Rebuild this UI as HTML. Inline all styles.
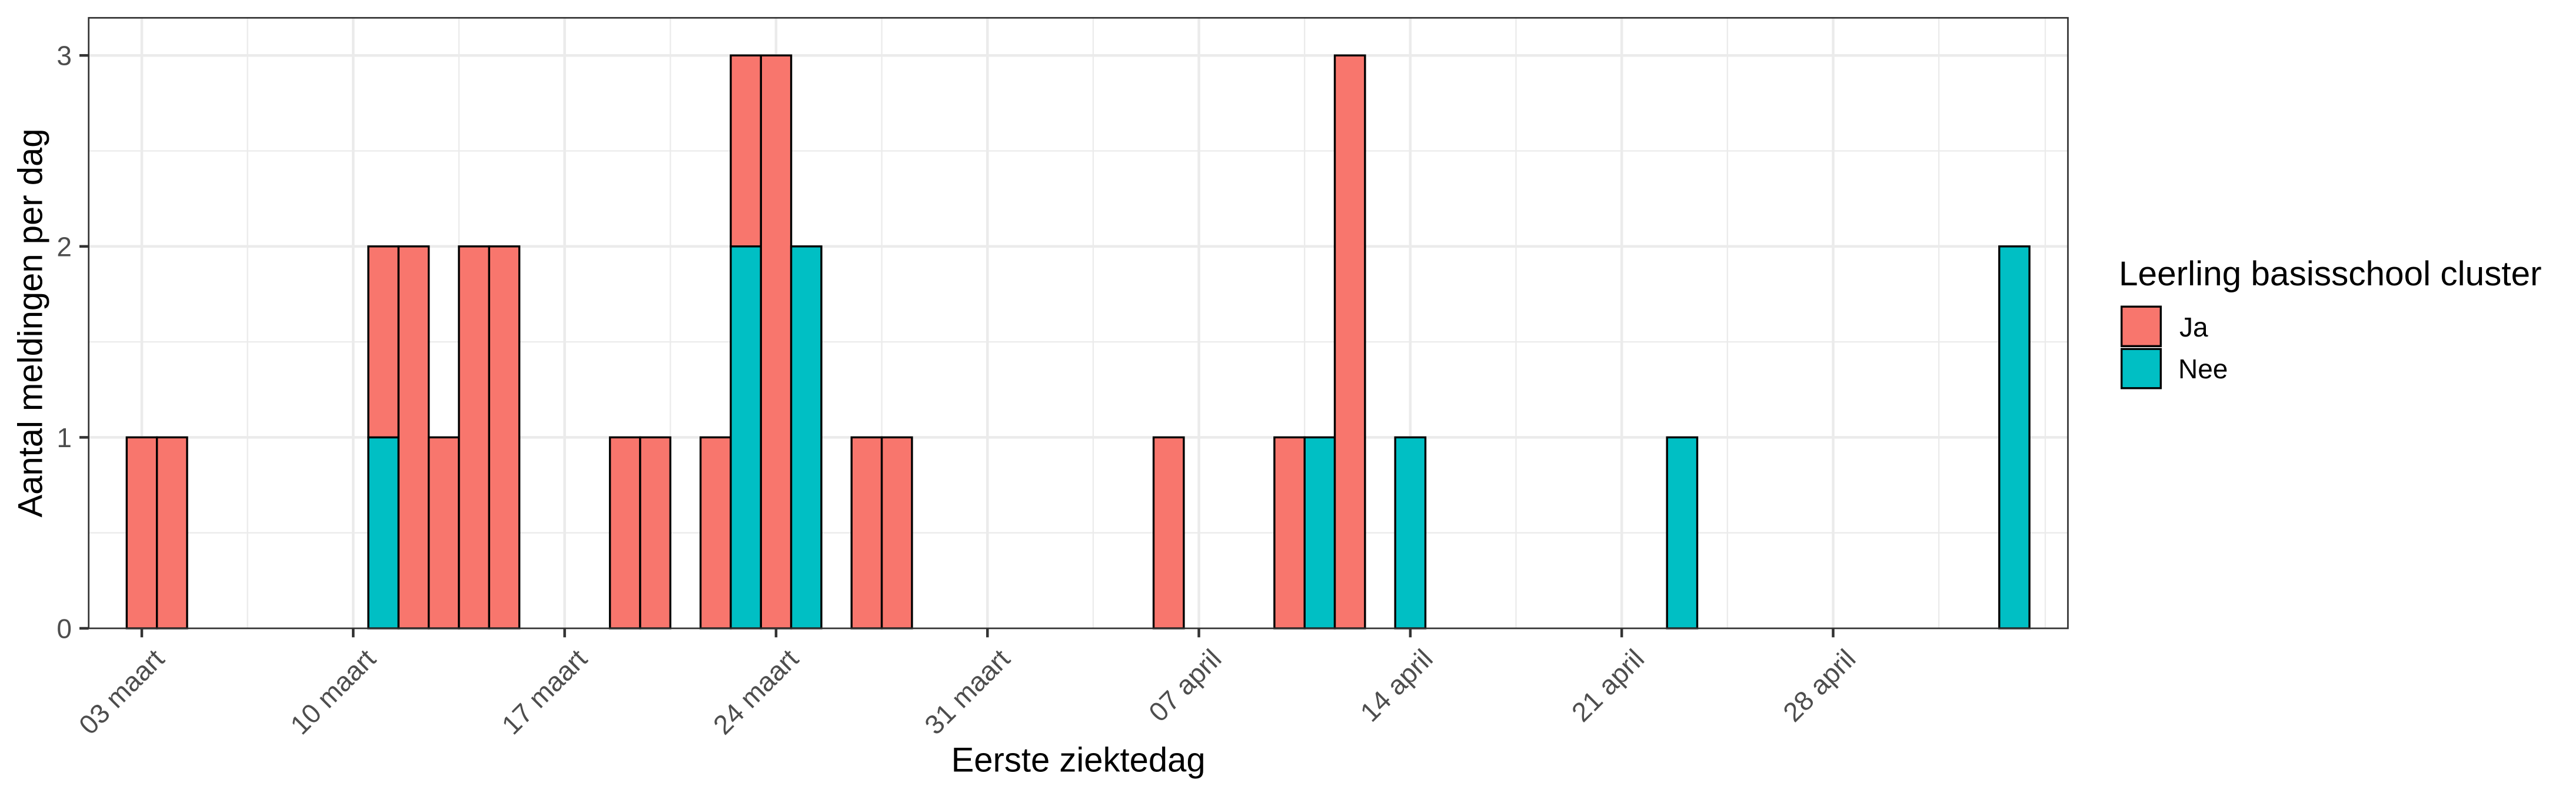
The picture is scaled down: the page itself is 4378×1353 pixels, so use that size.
<!DOCTYPE html>
<html>
<head>
<meta charset="utf-8">
<style>
  html, body { margin: 0; padding: 0; background: #ffffff; }
  svg { display: block; }
  text { font-family: "Liberation Sans", Arial, sans-serif; }
</style>
</head>
<body>
<svg xmlns="http://www.w3.org/2000/svg" width="4378" height="1353" viewBox="0 0 4378 1353">
  <rect x="0" y="0" width="4378" height="1353" fill="#ffffff"/>

  <!-- minor gridlines -->
  <g stroke="#EBEBEB" stroke-width="2.3" fill="none">
    <line x1="150.7" y1="905.7" x2="3514.5" y2="905.7"/>
    <line x1="150.7" y1="581.1" x2="3514.5" y2="581.1"/>
    <line x1="150.7" y1="256.5" x2="3514.5" y2="256.5"/>
    <line x1="420.66" y1="30.3" x2="420.66" y2="1068"/>
    <line x1="779.97" y1="30.3" x2="779.97" y2="1068"/>
    <line x1="1139.28" y1="30.3" x2="1139.28" y2="1068"/>
    <line x1="1498.59" y1="30.3" x2="1498.59" y2="1068"/>
    <line x1="1857.90" y1="30.3" x2="1857.90" y2="1068"/>
    <line x1="2217.21" y1="30.3" x2="2217.21" y2="1068"/>
    <line x1="2576.52" y1="30.3" x2="2576.52" y2="1068"/>
    <line x1="2935.83" y1="30.3" x2="2935.83" y2="1068"/>
    <line x1="3295.14" y1="30.3" x2="3295.14" y2="1068"/>
    <line x1="3476" y1="30.3" x2="3476" y2="1068"/>
  </g>

  <!-- major gridlines -->
  <g stroke="#EBEBEB" stroke-width="4.5" fill="none">
    <line x1="150.7" y1="743.4" x2="3514.5" y2="743.4"/>
    <line x1="150.7" y1="418.8" x2="3514.5" y2="418.8"/>
    <line x1="150.7" y1="94.2" x2="3514.5" y2="94.2"/>
    <line x1="241" y1="30.3" x2="241" y2="1068"/>
    <line x1="600.31" y1="30.3" x2="600.31" y2="1068"/>
    <line x1="959.62" y1="30.3" x2="959.62" y2="1068"/>
    <line x1="1318.93" y1="30.3" x2="1318.93" y2="1068"/>
    <line x1="1678.24" y1="30.3" x2="1678.24" y2="1068"/>
    <line x1="2037.55" y1="30.3" x2="2037.55" y2="1068"/>
    <line x1="2396.86" y1="30.3" x2="2396.86" y2="1068"/>
    <line x1="2756.17" y1="30.3" x2="2756.17" y2="1068"/>
    <line x1="3115.48" y1="30.3" x2="3115.48" y2="1068"/>
  </g>

  <!-- bars -->
  <g stroke="#000000" stroke-width="3.4">
    <rect x="215.34" y="743.4" width="51.33" height="324.6" fill="#F8766D"/>
    <rect x="266.67" y="743.4" width="51.33" height="324.6" fill="#F8766D"/>
    <rect x="625.98" y="743.4" width="51.33" height="324.6" fill="#00BFC4"/>
    <rect x="625.98" y="418.8" width="51.33" height="324.6" fill="#F8766D"/>
    <rect x="677.31" y="418.8" width="51.33" height="649.2" fill="#F8766D"/>
    <rect x="728.64" y="743.4" width="51.33" height="324.6" fill="#F8766D"/>
    <rect x="779.97" y="418.8" width="51.33" height="649.2" fill="#F8766D"/>
    <rect x="831.30" y="418.8" width="51.33" height="649.2" fill="#F8766D"/>
    <rect x="1036.62" y="743.4" width="51.33" height="324.6" fill="#F8766D"/>
    <rect x="1087.95" y="743.4" width="51.33" height="324.6" fill="#F8766D"/>
    <rect x="1190.61" y="743.4" width="51.33" height="324.6" fill="#F8766D"/>
    <rect x="1241.94" y="418.8" width="51.33" height="649.2" fill="#00BFC4"/>
    <rect x="1241.94" y="94.2" width="51.33" height="324.6" fill="#F8766D"/>
    <rect x="1293.27" y="94.2" width="51.33" height="973.8" fill="#F8766D"/>
    <rect x="1344.60" y="418.8" width="51.33" height="649.2" fill="#00BFC4"/>
    <rect x="1447.26" y="743.4" width="51.33" height="324.6" fill="#F8766D"/>
    <rect x="1498.59" y="743.4" width="51.33" height="324.6" fill="#F8766D"/>
    <rect x="1960.56" y="743.4" width="51.33" height="324.6" fill="#F8766D"/>
    <rect x="2165.88" y="743.4" width="51.33" height="324.6" fill="#F8766D"/>
    <rect x="2217.21" y="743.4" width="51.33" height="324.6" fill="#00BFC4"/>
    <rect x="2268.54" y="94.2" width="51.33" height="973.8" fill="#F8766D"/>
    <rect x="2371.20" y="743.4" width="51.33" height="324.6" fill="#00BFC4"/>
    <rect x="2833.17" y="743.4" width="51.33" height="324.6" fill="#00BFC4"/>
    <rect x="3397.80" y="418.8" width="51.33" height="649.2" fill="#00BFC4"/>
  </g>

  <!-- panel border -->
  <rect x="150.7" y="30.3" width="3363.8" height="1037.7" fill="none" stroke="#333333" stroke-width="2.7"/>

  <!-- y ticks -->
  <g stroke="#333333" stroke-width="4.5">
    <line x1="135" y1="1068" x2="150.7" y2="1068"/>
    <line x1="135" y1="743.4" x2="150.7" y2="743.4"/>
    <line x1="135" y1="418.8" x2="150.7" y2="418.8"/>
    <line x1="135" y1="94.2" x2="150.7" y2="94.2"/>
  </g>
  <!-- x ticks -->
  <g stroke="#333333" stroke-width="4.5">
    <line x1="241" y1="1068" x2="241" y2="1083.3"/>
    <line x1="600.31" y1="1068" x2="600.31" y2="1083.3"/>
    <line x1="959.62" y1="1068" x2="959.62" y2="1083.3"/>
    <line x1="1318.93" y1="1068" x2="1318.93" y2="1083.3"/>
    <line x1="1678.24" y1="1068" x2="1678.24" y2="1083.3"/>
    <line x1="2037.55" y1="1068" x2="2037.55" y2="1083.3"/>
    <line x1="2396.86" y1="1068" x2="2396.86" y2="1083.3"/>
    <line x1="2756.17" y1="1068" x2="2756.17" y2="1083.3"/>
    <line x1="3115.48" y1="1068" x2="3115.48" y2="1083.3"/>
  </g>

  <!-- y tick labels -->
  <g font-size="46" fill="#4D4D4D" text-anchor="end">
    <text x="122" y="1084.5">0</text>
    <text x="122" y="759.9">1</text>
    <text x="122" y="435.3">2</text>
    <text x="122" y="110.7">3</text>
  </g>

  <!-- x tick labels -->
  <g font-size="46" fill="#4D4D4D" text-anchor="end">
    <text transform="translate(260,1101) rotate(-45)" x="0" y="31">03 maart</text>
    <text transform="translate(619.31,1101) rotate(-45)" x="0" y="31">10 maart</text>
    <text transform="translate(978.62,1101) rotate(-45)" x="0" y="31">17 maart</text>
    <text transform="translate(1337.93,1101) rotate(-45)" x="0" y="31">24 maart</text>
    <text transform="translate(1697.24,1101) rotate(-45)" x="0" y="31">31 maart</text>
    <text transform="translate(2056.55,1101) rotate(-45)" x="0" y="31">07 april</text>
    <text transform="translate(2415.86,1101) rotate(-45)" x="0" y="31">14 april</text>
    <text transform="translate(2775.17,1101) rotate(-45)" x="0" y="31">21 april</text>
    <text transform="translate(3134.48,1101) rotate(-45)" x="0" y="31">28 april</text>
  </g>

  <!-- axis titles -->
  <text x="1832.6" y="1311.7" font-size="58" fill="#000000" text-anchor="middle">Eerste ziektedag</text>
  <text transform="translate(71.7,549) rotate(-90)" x="0" y="0" font-size="58" fill="#000000" text-anchor="middle">Aantal meldingen per dag</text>

  <!-- legend -->
  <text x="3601" y="485" font-size="58.5" fill="#000000">Leerling basisschool cluster</text>
  <rect x="3605.7" y="521.2" width="66.6" height="67.1" fill="#F8766D" stroke="#000000" stroke-width="3.4"/>
  <rect x="3605.7" y="593.2" width="66.6" height="66.6" fill="#00BFC4" stroke="#000000" stroke-width="3.4"/>
  <text x="3704" y="572" font-size="46" fill="#000000">Ja</text>
  <text x="3702" y="643" font-size="46" fill="#000000">Nee</text>
</svg>
</body>
</html>
